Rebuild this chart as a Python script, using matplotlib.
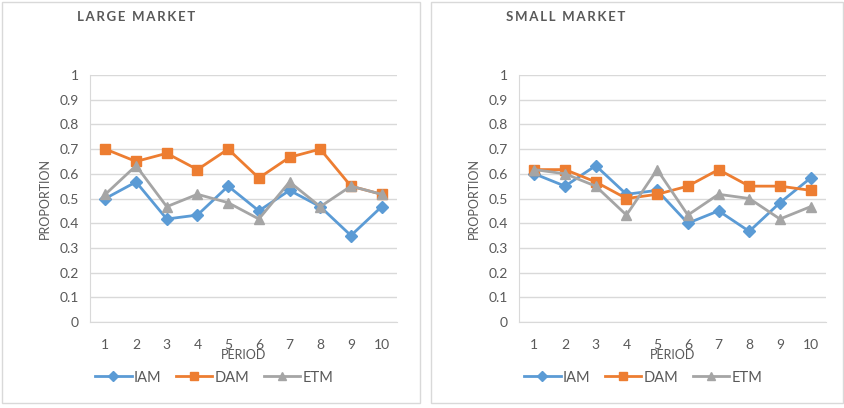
import matplotlib
matplotlib.use("Agg")
import matplotlib.pyplot as plt
from matplotlib.patches import Rectangle

periods = [1, 2, 3, 4, 5, 6, 7, 8, 9, 10]

large_iam = [0.50, 0.567, 0.417, 0.433, 0.55, 0.45, 0.533, 0.467, 0.35, 0.467]
large_dam = [0.70, 0.65, 0.683, 0.617, 0.70, 0.583, 0.667, 0.70, 0.55, 0.517]
large_etm = [0.517, 0.633, 0.467, 0.517, 0.483, 0.417, 0.567, 0.467, 0.55, 0.517]

small_iam = [0.60, 0.55, 0.633, 0.517, 0.533, 0.40, 0.45, 0.367, 0.483, 0.583]
small_dam = [0.617, 0.617, 0.567, 0.50, 0.517, 0.55, 0.617, 0.55, 0.55, 0.533]
small_etm = [0.617, 0.60, 0.55, 0.433, 0.617, 0.433, 0.517, 0.50, 0.417, 0.467]

titles = ["LARGE MARKET", "SMALL MARKET"]
series_names = ["IAM", "DAM", "ETM"]
yticks = [0, 0.1, 0.2, 0.3, 0.4, 0.5, 0.6, 0.7, 0.8, 0.9, 1]
ytick_labels = ["0", "0.1", "0.2", "0.3", "0.4", "0.5", "0.6", "0.7", "0.8", "0.9", "1"]

colors = ["#5B9BD5", "#ED7D31", "#A5A5A5"]
markers = ["D", "s", "^"]
msizes = [6, 7, 7.5]
txt = "#595959"

plt.rcParams['font.family'] = ['Lato', 'DejaVu Sans']

fig = plt.figure(figsize=(8.45, 4.08), dpi=100)
W, H = 845, 408

def fx(p): return p / W
def fy(p): return 1 - p / H

panels = [(2, 420), (431, 843)]
axes_px = [(90, 397), (519, 826)]
data = [(large_iam, large_dam, large_etm), (small_iam, small_dam, small_etm)]

for i in range(2):
    px0, px1 = panels[i]
    fig.patches.append(Rectangle((fx(px0), fy(403)), fx(px1) - fx(px0), fy(2) - fy(403),
                                 transform=fig.transFigure, fill=False,
                                 edgecolor="#D9D9D9", linewidth=1.0))
    ax0, ax1 = axes_px[i]
    ax = fig.add_axes([fx(ax0), fy(322), fx(ax1) - fx(ax0), fy(75) - fy(322)])
    for s, name in enumerate(series_names):
        ax.plot(periods, data[i][s], color=colors[s], marker=markers[s],
                markersize=msizes[s], linewidth=2.0, label=name, zorder=3 + s)
    ax.set_xlim(0.5, 10.5)
    ax.set_ylim(0, 1)
    ax.set_yticks(yticks)
    ax.set_yticklabels(ytick_labels)
    ax.set_xticks(periods)
    ax.grid(axis="y", color="#D9D9D9", linewidth=1.0)
    ax.set_axisbelow(True)
    for sp in ["top", "right"]:
        ax.spines[sp].set_visible(False)
    for sp in ["left", "bottom"]:
        ax.spines[sp].set_color("#D9D9D9")
    ax.tick_params(length=0, labelsize=10, labelcolor=txt, pad=8)
    ax.tick_params(axis="x", pad=12)
    ax.set_xlabel("PERIOD", fontsize=9, color=txt, labelpad=-1)
    ax.set_ylabel("PROPORTION", fontsize=9, color=txt, labelpad=6)
    words = titles[i].split(" ")
    spaced = "\u2002".join("\u2009".join(w) for w in words)
    fig.text(fx(px0 + 75), fy(17), spaced, fontsize=9.5, fontweight="bold",
             color=txt, ha="left", va="center", family=["Lato", "DejaVu Sans"])
    leg = ax.legend(loc="center", bbox_to_anchor=(0.405, -0.225), ncol=3, frameon=False,
                    fontsize=10.5, handlelength=2.5, columnspacing=1.0, handletextpad=0.15,
                    markerscale=0.85)
    for t in leg.get_texts():
        t.set_color(txt)

fig.savefig("out.png", dpi=100)
